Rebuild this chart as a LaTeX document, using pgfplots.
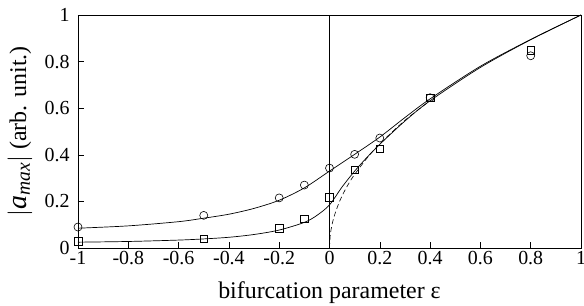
\documentclass[border=0pt]{standalone}
\usepackage{pgfplots}
\pgfplotsset{compat=1.18}
\usepackage{fontspec}
\setmainfont{Liberation Serif}
\begin{document}
\begin{tikzpicture}
\begin{axis}[
  scale only axis,
  width=503bp, height=233bp,
  xmin=-1, xmax=1, ymin=0, ymax=1,
  xtick={-1,-0.8,...,1.01},
  ytick={0,0.2,...,1.01},
  xticklabels={-1,-0.8,-0.6,-0.4,-0.2,0,0.2,0.4,0.6,0.8,1},
  tick align=inside,
  xtick pos=bottom, ytick pos=left,
  major tick length=6bp,
  tick style={black, line width=0.6pt},
  axis line style={line width=0.8pt},
  /pgf/number format/assume math mode=true,
  ticklabel style={font=\fontsize{20}{23}\selectfont},
  label style={font=\fontsize{24}{27}\selectfont},
  xlabel={bifurcation parameter ε},
  ylabel={{\fontsize{28}{30}\selectfont$|\mathit{a}_{\mathit{max}}|$} (arb. unit.)},
  xlabel style={at={([yshift=-50bp]axis description cs:0.5,0)}, anchor=base},
  ylabel style={at={([xshift=-58bp]axis description cs:0,0.5)}, anchor=center},
  yticklabel style={xshift=-5bp},
  clip mode=individual,
]
\addplot[black, line width=0.6pt, forget plot] coordinates {(0,0) (0,1)};
% circle fit curve
\addplot[black, line width=0.7pt, smooth, no marks] coordinates {
(-1,0.085) (-0.8,0.095) (-0.6,0.113) (-0.5,0.128) (-0.4,0.145) (-0.3,0.17) (-0.2,0.205) (-0.1,0.258) (0,0.33) (0.1,0.402) (0.2,0.476) (0.3,0.56) (0.4,0.64) (0.6,0.78) (0.8,0.895) (1,1.0)};
% square fit curve
\addplot[black, line width=0.7pt, smooth, no marks] coordinates {
(-1,0.025) (-0.8,0.028) (-0.6,0.034) (-0.5,0.039) (-0.4,0.046) (-0.3,0.058) (-0.2,0.077) (-0.1,0.11) (-0.05,0.14) (0,0.185) (0.05,0.262) (0.1,0.33) (0.15,0.39) (0.2,0.445) (0.3,0.545) (0.4,0.632) (0.6,0.775) (0.8,0.894) (1,1.0)};
% dashed sqrt-like curve
\addplot[black, line width=0.6pt, dash pattern=on 5bp off 3bp, smooth, no marks] coordinates {
(0,0) (0.003,0.055) (0.01,0.1) (0.02,0.141) (0.04,0.2) (0.06,0.245) (0.08,0.283) (0.1,0.316) (0.15,0.387) (0.2,0.447) (0.3,0.548) (0.4,0.632)};
% circles
\addplot[only marks, mark=o, mark size=4bp, black, mark options={line width=0.6pt}] coordinates {
(-1,0.09) (-0.5,0.14) (-0.2,0.215) (-0.1,0.27) (0,0.343) (0.1,0.402) (0.2,0.472) (0.4,0.645) (0.8,0.825)};
% squares
\addplot[only marks, mark=square, mark size=3.8bp, black, mark options={line width=0.6pt}] coordinates {
(-1,0.03) (-0.5,0.04) (-0.2,0.085) (-0.1,0.125) (0,0.217) (0.1,0.335) (0.2,0.425) (0.4,0.645) (0.8,0.848)};
\end{axis}
\pgfresetboundingbox
\path[use as bounding box] ([xshift=-78bp,yshift=-58bp]current axis.south west) rectangle ([xshift=3bp,yshift=15bp]current axis.north east);
\end{tikzpicture}
\end{document}
